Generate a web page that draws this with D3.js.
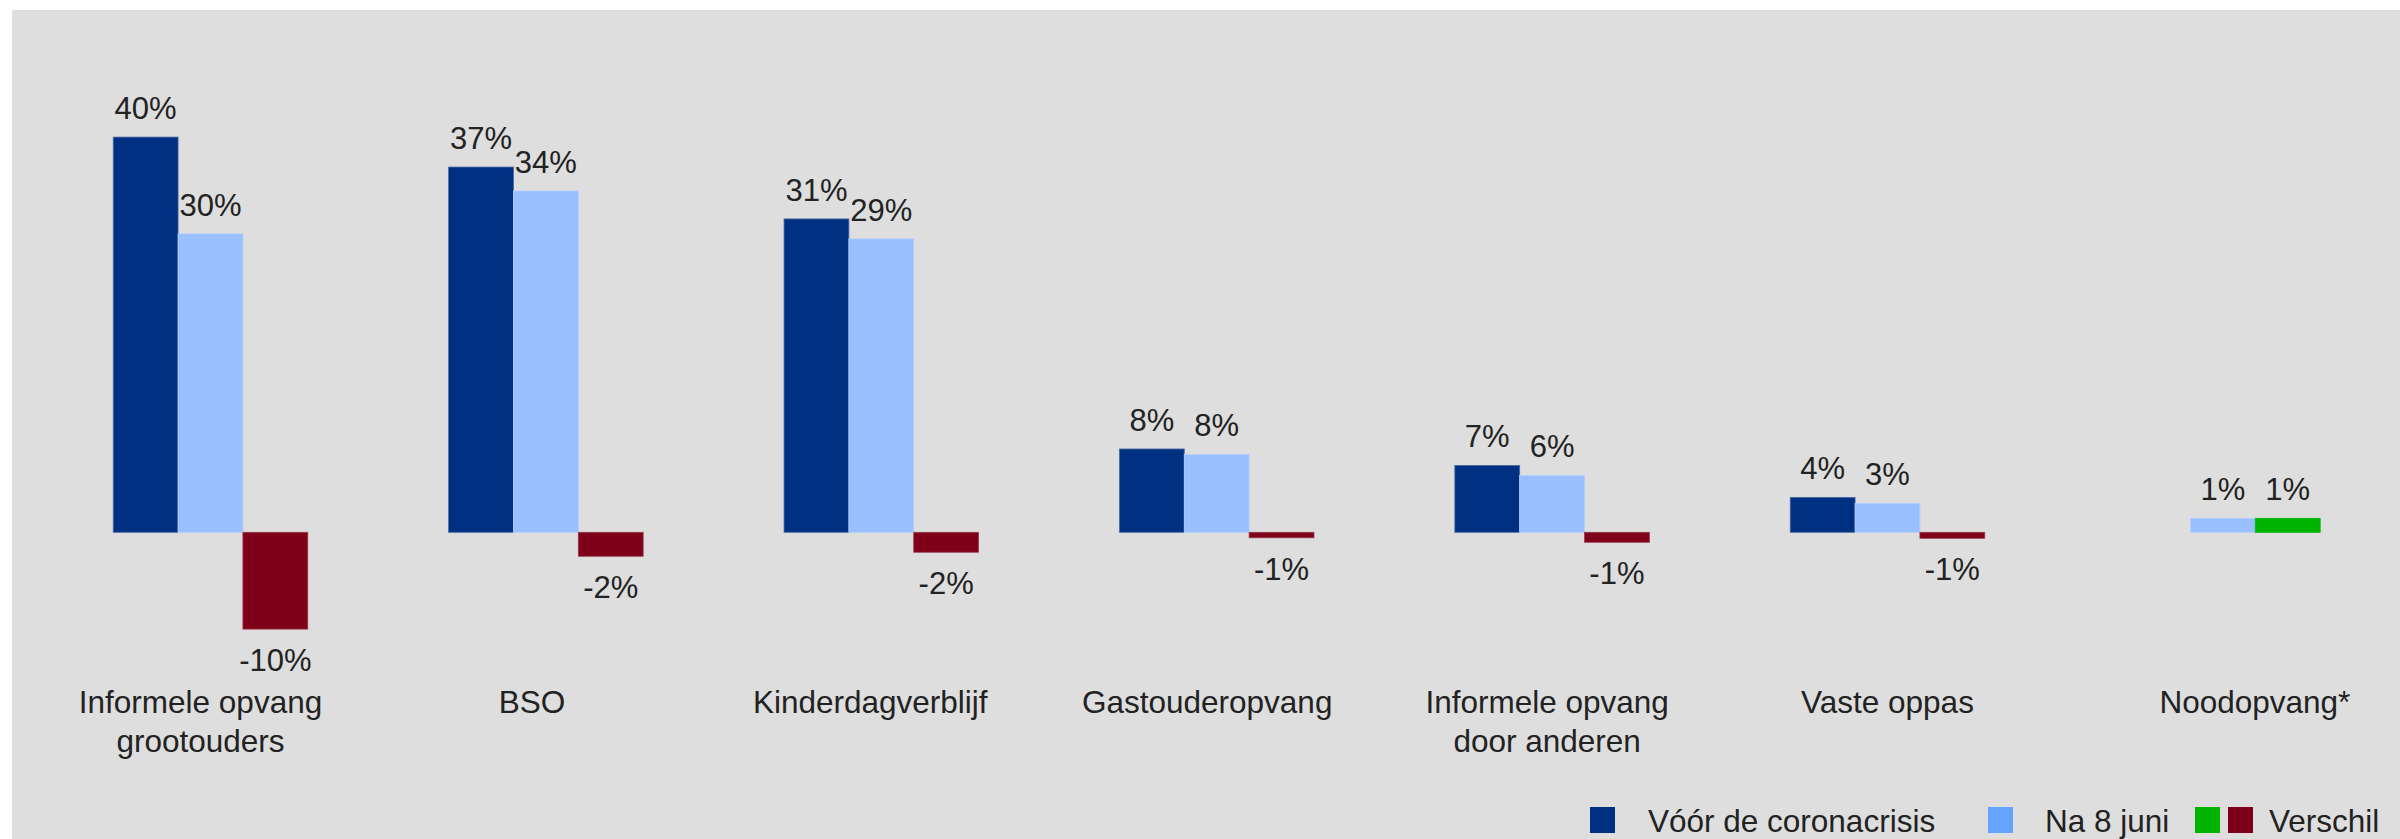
<!DOCTYPE html>
<html>
<head>
<meta charset="utf-8">
<script src="https://cdn.jsdelivr.net/npm/d3@7"></script>
<style>
    body { margin: 0; background: #ffffff; }
    text { font-family: "Liberation Sans", Arial, sans-serif; fill: #222222; }
</style>
</head>
<body>
<div id="grafico"></div>
<script>
// data (percentages)
var categorieen = ["Informele opvang grootouders", "BSO", "Kinderdagverblijf", "Gastouderopvang",
    "Informele opvang door anderen", "Vaste oppas", "Noodopvang*"];
var labelRegels = [["Informele opvang", "grootouders"], ["BSO"], ["Kinderdagverblijf"], ["Gastouderopvang"],
    ["Informele opvang", "door anderen"], ["Vaste oppas"], ["Noodopvang*"]];
var voorCorona = [39.6, 36.6, 31.4, 8.35, 6.7, 3.5, null];
var na8Juni = [29.9, 34.2, 29.4, 7.8, 5.7, 2.9, 1.4];
var verschil = [-9.7, -2.4, -2.0, -0.55, -1.0, -0.6, 1.4];
var reeksen = ["voor", "na", "verschil"];
var legendaLabels = ["Vóór de coronacrisis", "Na 8 juni", "Verschil"];

// layout: small shift of each category label (they are not exactly centred in the original)
var labelVerschuiving = [-10, -14, -11, -9.5, -5, 0, 32];

var kleurDonker = "#003082"
    , kleurLicht = "#9abfff"
    , kleurMin = "#7f0019"
    , kleurPlus = "#00b400";

var W = 2400, H = 839;
var nul = 532.3, perProcent = 9.98;

var svg = d3.select("#grafico").append("svg")
    .attr("width", W)
    .attr("height", H);

svg.append("rect")
    .attr("x", 12).attr("y", 10)
    .attr("width", W - 12).attr("height", H - 10)
    .attr("fill", "#dedede");

var x0 = d3.scaleBand()
    .domain(categorieen)
    .range([42.8, 2390.6])
    .paddingInner(0.42)
    .paddingOuter(0.21);

var x1 = d3.scaleBand()
    .domain(reeksen)
    .range([0, x0.bandwidth()]);

var y = d3.scaleLinear()
    .domain([-12, 45])
    .range([nul + 12 * perProcent, nul - 45 * perProcent]);

var rijen = categorieen.map(function(c, i) {
    return [
        { cat: c, reeks: "voor", value: voorCorona[i] },
        { cat: c, reeks: "na", value: na8Juni[i] },
        { cat: c, reeks: "verschil", value: verschil[i] }
    ];
});

function kleur(d) {
    if (d.reeks == "voor") return kleurDonker;
    if (d.reeks == "na") return kleurLicht;
    return d.value < 0 ? kleurMin : kleurPlus;
}

function randKleur(d) {
    if (d.reeks == "voor") return "#4d6aa3";
    if (d.reeks == "na") return "#b3cfff";
    return d.value < 0 ? "#9a3a4c" : "#00b400";
}

var groep = svg.selectAll(".groep")
    .data(rijen)
    .enter().append("g")
    .attr("class", "groep")
    .attr("transform", function(d) { return "translate(" + x0(d[0].cat) + ",0)"; });

var staven = groep.selectAll(".staaf")
    .data(function(d) { return d.filter(function(e) { return e.value != null; }); })
    .enter();

staven.append("rect")
    .attr("x", function(d) { return x1(d.reeks); })
    .attr("width", x1.bandwidth())
    .attr("y", function(d) { return y(Math.max(0, d.value)); })
    .attr("height", function(d) { return Math.abs(y(d.value) - y(0)); })
    .attr("fill", kleur)
    .attr("stroke", randKleur)
    .attr("stroke-width", 0.8);

staven.append("text")
    .attr("x", function(d) { return x1(d.reeks) + x1.bandwidth() / 2; })
    .attr("y", function(d) {
        return d.value < 0 ? y(d.value) + 42 : y(d.value) - 18;
    })
    .attr("text-anchor", "middle")
    .style("font-size", "31px")
    .text(function(d) { return Math.round(d.value) + "%"; });

// category labels
var labels = svg.selectAll(".catlabel")
    .data(categorieen)
    .enter().append("text")
    .attr("class", "catlabel")
    .attr("text-anchor", "middle")
    .attr("x", function(d, i) { return x0(d) + x0.bandwidth() / 2 + labelVerschuiving[i]; })
    .attr("y", 713)
    .style("font-size", "31.5px");

labels.selectAll("tspan")
    .data(function(d, i) { return labelRegels[i]; })
    .enter().append("tspan")
    .attr("x", function() { return d3.select(this.parentNode).attr("x"); })
    .attr("dy", function(d, i) { return i == 0 ? 0 : 38.5; })
    .text(function(d) { return d; });

// legend
var legenda = [
    { x: 1590, kleuren: ["#003082"], tekstX: 1648 },
    { x: 1988, kleuren: ["#66a3ff"], tekstX: 2045 },
    { x: 2195, kleuren: [kleurPlus, kleurMin], tekstX: 2269 }
];

var leg = svg.selectAll(".leg")
    .data(legenda)
    .enter().append("g")
    .attr("class", "leg");

leg.selectAll("rect")
    .data(function(d) { return d.kleuren.map(function(k, j) { return { x: d.x + j * 33, k: k }; }); })
    .enter().append("rect")
    .attr("x", function(d) { return d.x; })
    .attr("y", 807)
    .attr("width", 25)
    .attr("height", 26)
    .attr("fill", function(d) { return d.k; });

leg.append("text")
    .attr("x", function(d) { return d.tekstX; })
    .attr("y", 832)
    .style("font-size", "31.5px")
    .text(function(d, i) { return legendaLabels[i]; });
</script>
</body>
</html>
